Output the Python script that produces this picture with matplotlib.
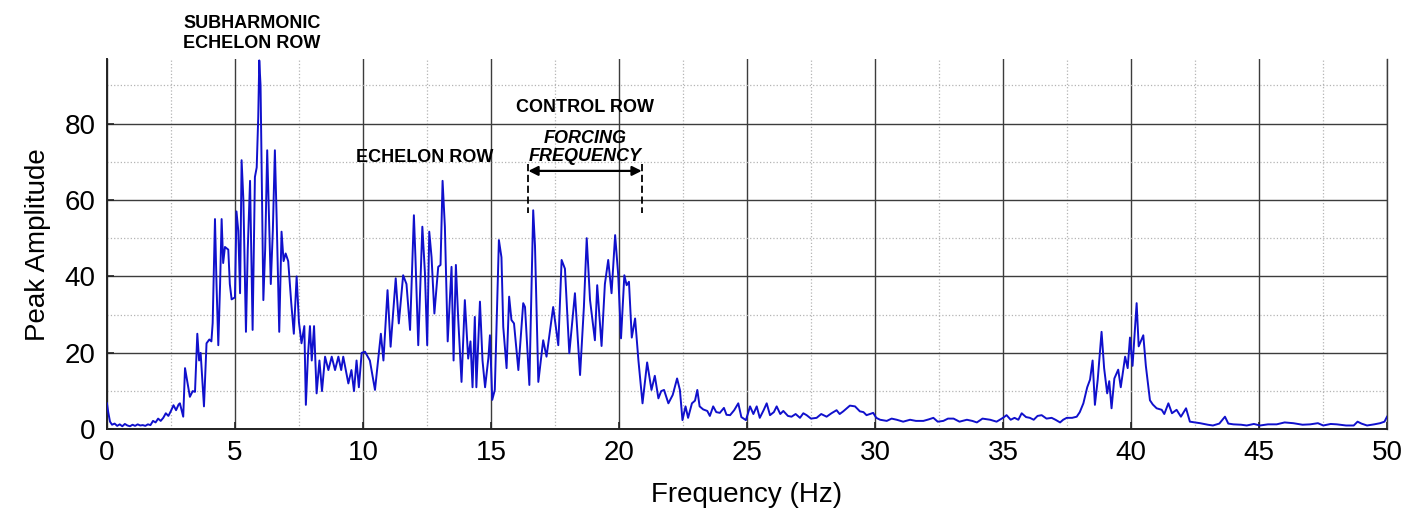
"""Peak amplitude spectrum of the echelon / control rows, 0-50 Hz."""

import matplotlib
matplotlib.use("Agg")
import matplotlib.pyplot as plt
from matplotlib.ticker import MultipleLocator

plt.rcParams["font.family"] = ["Liberation Sans", "DejaVu Sans"]

# --------------------------------------------------------------------------- #
# Data (vertices of the trace)
# --------------------------------------------------------------------------- #

# 0 - 4.2 Hz : low floor, rise into the subharmonic band
freq_a = [0.0, 0.05, 0.12, 0.2, 0.3, 0.4, 0.5, 0.6, 0.7, 0.8, 0.9, 1.0, 1.1, 1.2,
          1.3, 1.4, 1.5, 1.6, 1.7, 1.8, 1.9, 2.0, 2.1, 2.2, 2.3, 2.4, 2.5, 2.6,
          2.7, 2.8, 2.85, 2.98, 3.05, 3.15, 3.24, 3.35, 3.44, 3.53, 3.6, 3.66,
          3.79, 3.89, 4.0, 4.08, 4.13]
amp_a = [6.8, 4.5, 2.0, 1.2, 1.5, 0.9, 1.3, 0.8, 1.4, 1.0, 0.8, 1.2, 0.9, 1.3,
         1.0, 1.1, 0.9, 1.3, 1.1, 2.2, 1.8, 2.8, 2.2, 3.0, 4.2, 3.5, 4.8, 6.3,
         5.0, 6.5, 6.8, 3.3, 16.0, 12.0, 8.5, 10.0, 9.8, 25.0, 18.0, 20.0,
         6.0, 22.5, 23.5, 23.0, 27.8]

# 4.2 - 10 Hz : subharmonic echelon row band
freq_b = [4.22, 4.28, 4.35, 4.42, 4.48, 4.54, 4.61, 4.74, 4.8, 4.87, 5.0, 5.06,
          5.13, 5.2, 5.26, 5.33, 5.43, 5.5, 5.59, 5.69, 5.78, 5.85, 5.91, 5.95,
          6.0, 6.05, 6.11, 6.18, 6.26, 6.33, 6.4, 6.48, 6.56, 6.63, 6.73, 6.82,
          6.9, 6.98, 7.08, 7.2, 7.3, 7.41, 7.5, 7.6, 7.71, 7.77, 7.85, 7.93,
          8.0, 8.09, 8.19, 8.3, 8.4, 8.52, 8.65, 8.78, 8.91, 9.04, 9.15, 9.23,
          9.43, 9.55, 9.65, 9.75, 9.84, 9.95]
amp_b = [55.0, 38.0, 22.0, 38.0, 55.0, 43.5, 47.7, 47.0, 38.0, 34.0, 34.5, 57.0,
         52.0, 35.6, 70.4, 60.0, 25.5, 47.0, 65.0, 26.0, 66.0, 68.5, 81.7, 96.5,
         90.0, 64.0, 33.8, 47.0, 73.0, 55.0, 38.0, 52.0, 73.0, 55.0, 25.5, 51.7,
         44.0, 46.0, 44.0, 33.0, 25.0, 40.0, 28.0, 22.5, 27.0, 6.4, 19.0, 27.0,
         18.0, 27.0, 9.4, 18.0, 10.0, 19.0, 15.5, 19.0, 15.5, 19.0, 15.5, 19.0,
         12.0, 15.5, 10.0, 18.0, 11.0, 20.0]

# 10 - 16 Hz : echelon row band
freq_c = [10.08, 10.27, 10.47, 10.7, 10.8, 10.96, 11.08, 11.28, 11.4, 11.57,
          11.7, 11.84, 11.99, 12.05, 12.16, 12.32, 12.42, 12.51, 12.59, 12.68,
          12.79, 12.94, 13.03, 13.11, 13.2, 13.31, 13.46, 13.54, 13.63, 13.72,
          13.85, 13.98, 14.11, 14.2, 14.28, 14.37, 14.43, 14.57, 14.67, 14.77,
          14.9, 14.96, 15.05, 15.15, 15.31, 15.41, 15.48, 15.61, 15.71, 15.8,
          15.9]
amp_c = [20.3, 18.0, 10.3, 25.0, 18.0, 36.4, 21.6, 39.5, 27.7, 40.3,
         38.0, 26.0, 56.0, 45.0, 22.0, 53.0, 41.0, 22.0, 51.7, 45.0,
         30.3, 42.5, 43.0, 65.0, 53.0, 23.0, 42.5, 18.0, 43.0, 29.0,
         12.4, 33.8, 18.5, 23.0, 11.0, 29.4, 11.0, 33.4, 18.0, 11.0,
         18.7, 24.6, 7.7, 10.3, 49.5, 45.0, 26.8, 16.0, 34.7, 28.6,
         27.7]

# 16 - 23 Hz : control row / forcing frequency band and its roll-off
freq_d = [16.07, 16.26, 16.33, 16.5, 16.65, 16.72, 16.85, 17.04, 17.17, 17.43,
          17.63, 17.76, 17.89, 18.06, 18.28, 18.48, 18.63, 18.74, 18.87, 19.06,
          19.15, 19.32, 19.45, 19.58, 19.71, 19.85, 19.97, 20.08, 20.21, 20.3,
          20.39, 20.5, 20.63, 20.76, 20.92, 21.1, 21.27, 21.4, 21.54, 21.65,
          21.76, 21.93, 22.1, 22.27, 22.38, 22.48, 22.6, 22.7, 22.85, 22.97]
amp_d = [15.5, 33.0, 32.0, 11.6, 57.3, 48.0, 12.4, 23.3, 19.0, 32.0,
         22.0, 44.3, 42.0, 19.9, 35.6, 14.2, 32.0, 50.0, 33.8, 23.3,
         37.7, 21.8, 38.0, 44.3, 35.6, 50.8, 40.4, 23.8, 40.3, 37.7,
         38.6, 24.0, 29.0, 18.0, 6.8, 17.5, 10.3, 14.0, 8.1, 10.0,
         10.3, 6.8, 9.0, 13.3, 10.3, 2.4, 6.0, 3.0, 6.8, 7.5]

# 23 - 38 Hz : broadband floor
freq_e = [23.06, 23.15, 23.29, 23.45, 23.55, 23.68, 23.8, 23.94, 24.1, 24.2,
          24.34, 24.5, 24.66, 24.78, 24.96, 25.12, 25.25, 25.38, 25.5, 25.65,
          25.77, 25.9, 26.05, 26.16, 26.3, 26.42, 26.6, 26.74, 26.9, 27.07,
          27.2, 27.33, 27.5, 27.72, 27.9, 28.11, 28.3, 28.5, 28.62, 28.76,
          28.9, 29.02, 29.22, 29.41, 29.55, 29.67, 29.8, 29.93, 30.05, 30.2,
          30.46, 30.65, 30.85, 31.1, 31.37, 31.6, 31.89, 32.1, 32.28, 32.45,
          32.67, 32.85, 33.07, 33.3, 33.59, 33.8, 33.98, 34.2, 34.5, 34.75,
          35.0, 35.14, 35.3, 35.45, 35.6, 35.73, 35.9, 36.05, 36.2, 36.35,
          36.51, 36.7, 36.9, 37.05, 37.23, 37.35, 37.49, 37.7, 37.88]
amp_e = [10.3, 6.0, 5.2, 4.8, 3.5, 6.0, 4.5, 4.3, 5.6, 3.8,
         3.7, 5.0, 6.8, 3.2, 2.4, 6.0, 4.0, 6.0, 3.0, 5.0,
         6.8, 3.7, 4.5, 6.0, 4.0, 4.8, 3.5, 3.3, 4.0, 3.0,
         4.2, 3.7, 2.8, 3.0, 4.0, 3.3, 4.2, 5.0, 4.0, 4.7,
         5.5, 6.2, 6.0, 4.7, 4.5, 3.7, 4.0, 4.3, 3.0, 2.5,
         2.2, 2.8, 2.5, 2.0, 2.5, 2.2, 2.2, 2.6, 3.0, 2.0,
         2.2, 2.8, 2.8, 2.0, 2.5, 2.2, 1.8, 2.8, 2.5, 2.0,
         3.0, 3.7, 2.5, 3.0, 2.5, 4.2, 3.2, 3.0, 2.5, 3.5,
         3.7, 2.8, 3.0, 2.5, 1.8, 2.5, 3.0, 3.0, 3.3]

# 38 - 50 Hz : second harmonic cluster around 40 Hz and tail
freq_f = [38.0, 38.14, 38.29, 38.4, 38.5, 38.59, 38.7, 38.85, 38.95, 39.07,
          39.15, 39.24, 39.35, 39.5, 39.6, 39.77, 39.87, 39.96, 40.06, 40.22,
          40.3, 40.48, 40.58, 40.74, 40.85, 41.0, 41.2, 41.3, 41.46, 41.6,
          41.78, 41.95, 42.15, 42.3, 42.5, 42.7, 43.0, 43.2, 43.45, 43.67,
          43.8, 44.0, 44.3, 44.52, 44.8, 45.04, 45.35, 45.69, 46.0, 46.34,
          46.7, 47.0, 47.3, 47.51, 47.8, 48.04, 48.4, 48.7, 48.85, 49.0,
          49.22, 49.5, 49.73, 49.9, 50.0]
amp_f = [4.5, 6.8, 11.0, 13.0, 18.0, 6.4, 13.0, 25.5, 16.0, 9.4,
         12.6, 5.5, 13.3, 15.6, 11.0, 19.0, 16.0, 24.0, 16.6, 33.0,
         21.7, 24.6, 16.6, 7.6, 6.5, 5.5, 5.1, 4.0, 6.8, 4.2,
         5.1, 3.3, 5.5, 2.0, 1.8, 1.6, 1.2, 1.0, 1.5, 3.3,
         1.5, 1.3, 1.2, 1.0, 1.4, 1.0, 1.3, 1.3, 1.8, 1.6,
         1.2, 1.3, 1.6, 1.0, 1.4, 1.3, 1.0, 1.0, 2.0, 1.5,
         1.0, 1.3, 1.6, 2.0, 3.3]

freqs = freq_a + freq_b + freq_c + freq_d + freq_e + freq_f
amps = amp_a + amp_b + amp_c + amp_d + amp_e + amp_f

X_TICKS = list(range(0, 51, 5))
Y_TICKS = [0, 20, 40, 60, 80]

# forcing-frequency span marked with the double arrow
FORCING_SPAN = (16.46, 20.89)

LINE_COLOR = "#1010cc"
MAJOR_GRID = "#3c3c3c"
MINOR_GRID = "#b4b4b4"


def main() -> None:
    fig = plt.figure(figsize=(14.22, 5.2), dpi=100)
    ax = fig.add_axes([0.0752, 0.1744, 0.9002, 0.7116])

    ax.plot(freqs, amps, color=LINE_COLOR, linewidth=1.4, zorder=3)

    ax.set_xlim(0, 50)
    ax.set_ylim(0, 96.8)
    ax.set_xticks(X_TICKS)
    ax.set_yticks(Y_TICKS)
    ax.xaxis.set_minor_locator(MultipleLocator(2.5))
    ax.yaxis.set_minor_locator(MultipleLocator(10))

    ax.grid(which="major", color=MAJOR_GRID, linewidth=1.0, linestyle="-")
    ax.grid(which="minor", color=MINOR_GRID, linewidth=0.9, linestyle=":")
    ax.set_axisbelow(True)

    ax.tick_params(which="major", direction="in", length=5, width=1.2,
                   labelsize=20, pad=8, color="#222222")
    ax.tick_params(which="minor", length=0)
    ax.spines["top"].set_visible(False)
    ax.spines["right"].set_color(MAJOR_GRID)
    ax.spines["right"].set_linewidth(1.0)
    for side in ("left", "bottom"):
        ax.spines[side].set_color("#222222")
        ax.spines[side].set_linewidth(1.4)

    ax.set_xlabel("Frequency (Hz)", fontsize=20, labelpad=11)
    ax.set_ylabel("Peak Amplitude", fontsize=20, labelpad=10)

    # region labels
    ax.text(5.66, 98.8, "SUBHARMONIC\nECHELON ROW", ha="center", va="bottom",
            fontsize=13, fontweight="bold", linespacing=1.2, clip_on=False)
    ax.text(12.4, 71.0, "ECHELON ROW", ha="center", va="center",
            fontsize=13, fontweight="bold")
    ax.text(18.67, 84.3, "CONTROL ROW", ha="center", va="center",
            fontsize=13, fontweight="bold")
    ax.text(18.67, 73.8, "FORCING\nFREQUENCY", ha="center", va="center",
            fontsize=13, fontweight="bold", style="italic", linespacing=1.1)

    lo, hi = FORCING_SPAN
    ax.annotate("", xy=(lo, 67.6), xytext=(hi, 67.6),
                arrowprops=dict(arrowstyle="<|-|>", color="black", lw=1.6,
                                mutation_scale=14, shrinkA=0, shrinkB=0))
    for x in FORCING_SPAN:
        ax.plot([x, x], [69.5, 56.5], color="black", linewidth=1.3,
                linestyle=(0, (4, 2)), zorder=4)

    fig.savefig("out.png", dpi=100)


if __name__ == "__main__":
    main()
